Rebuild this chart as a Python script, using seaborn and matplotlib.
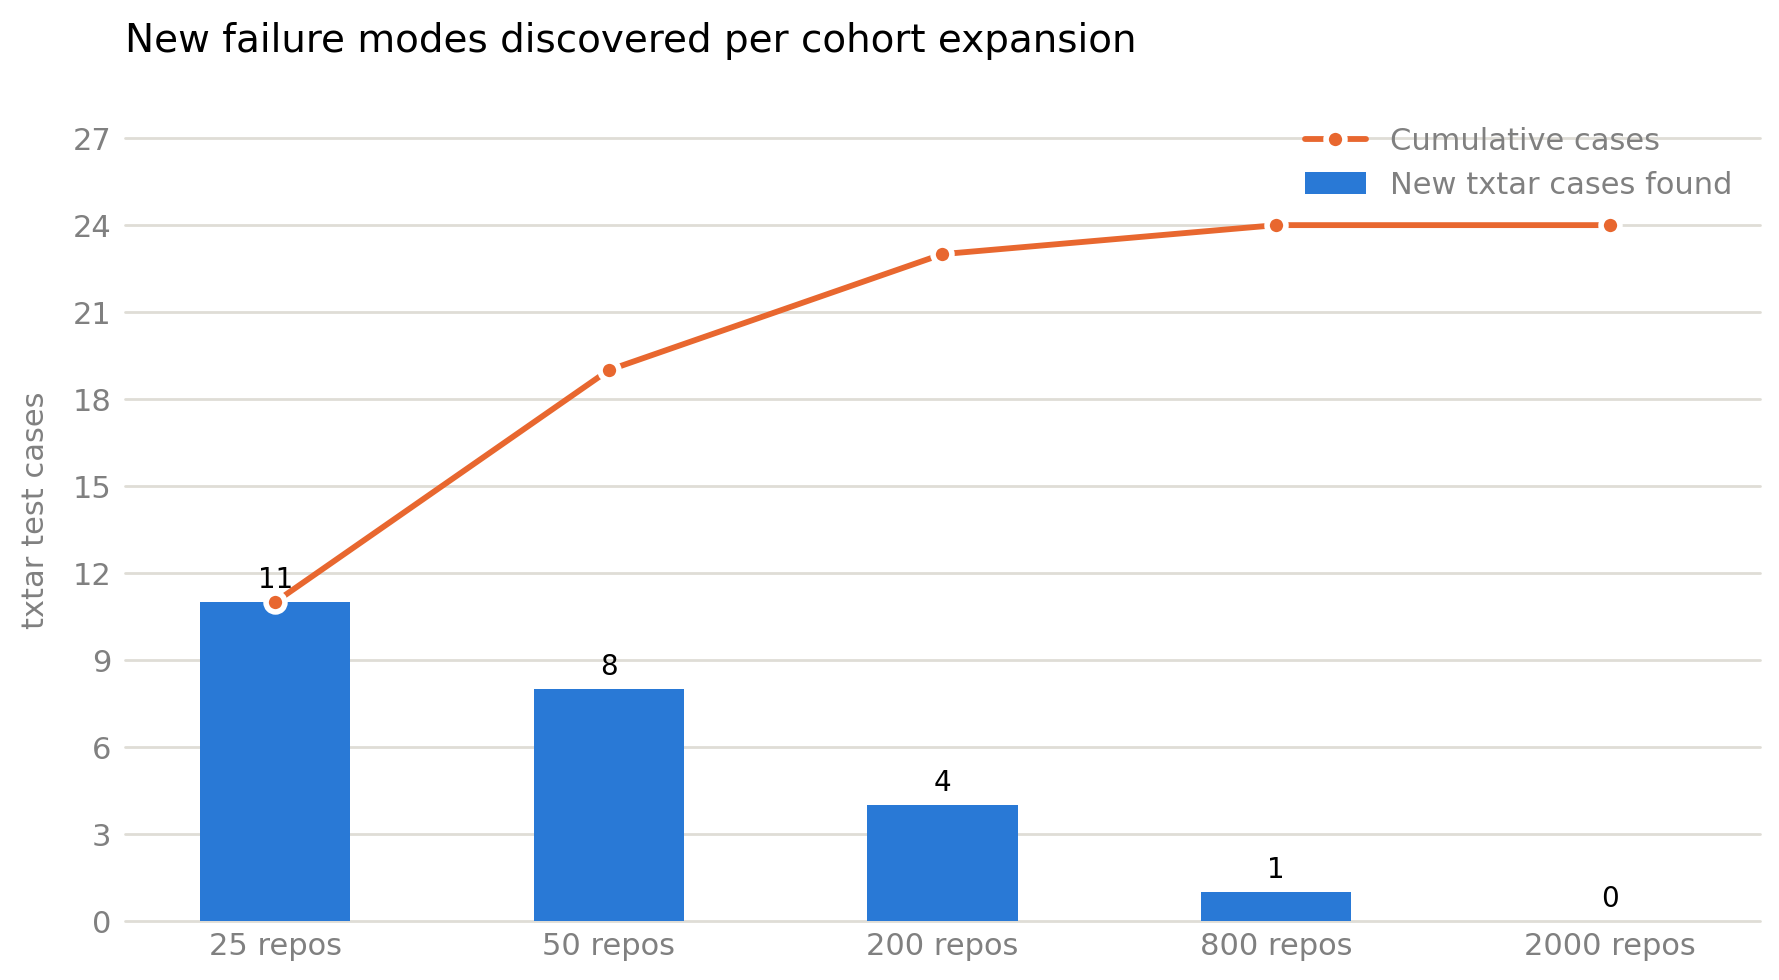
import matplotlib
matplotlib.use("Agg")
import matplotlib.pyplot as plt
import seaborn as sns
import pandas as pd

cohorts = ["25 repos", "50 repos", "200 repos", "800 repos", "2000 repos"]
new_cases = [11, 8, 4, 1, 0]
cumulative_cases = [11, 19, 23, 24, 24]
y_ticks = [0, 3, 6, 9, 12, 15, 18, 21, 24, 27]

title = "New failure modes discovered per cohort expansion"
y_label = "txtar test cases"
bar_name = "New txtar cases found"
line_name = "Cumulative cases"

BLUE = "#2979D6"
ORANGE = "#E8672F"
GRID = "#DFDDD6"
GRAY = "#808080"

sns.set_theme(style="white")
plt.rcParams["font.family"] = ["DejaVu Sans"]

df = pd.DataFrame({"cohort": cohorts, "new": new_cases, "cum": cumulative_cases})

fig = plt.figure(figsize=(1779 / 200, 980 / 200), dpi=200)
ax = fig.add_axes([125 / 1779, 1 - 921 / 980, (1760 - 125) / 1779, (921 - 99) / 980])

sns.barplot(data=df, x="cohort", y="new", color=BLUE, width=0.45, saturation=1,
            linewidth=0, edgecolor=BLUE, label=bar_name, ax=ax, zorder=2)
sns.pointplot(data=df, x="cohort", y="cum", color=ORANGE, errorbar=None,
              markers="o", markersize=6.8, markeredgecolor="white",
              markeredgewidth=2.0, linewidth=2.1, label=line_name, ax=ax)
for ln in ax.lines:
    ln.set_zorder(4)

for cont in ax.containers:
    ax.bar_label(cont, labels=[str(v) for v in new_cases], padding=3,
                 fontsize=10, color="black", zorder=5)

ax.set_xlim(-0.45, 4.45)
ax.set_ylim(0, 28.35)
ax.set_yticks(y_ticks)
ax.set_yticklabels([str(t) for t in y_ticks])
ax.yaxis.grid(True, color=GRID, linewidth=1.0, zorder=0)
ax.xaxis.grid(False)
ax.set_axisbelow(True)
for gl in ax.get_ygridlines():
    gl.set_clip_on(False)
for s in ax.spines.values():
    s.set_visible(False)
ax.tick_params(axis="both", length=0, labelsize=11, labelcolor=GRAY)
ax.tick_params(axis="y", pad=5)
ax.tick_params(axis="x", pad=4)
ax.set_xlabel("")
ax.set_ylabel(y_label, fontsize=11, color=GRAY, labelpad=8)
ax.set_title(title, loc="left", fontsize=14, color="black", pad=17)

handles, labels = ax.get_legend_handles_labels()
order = sorted(range(len(labels)), key=lambda i: 0 if labels[i] == line_name else 1)
leg = ax.legend([handles[i] for i in order], [labels[i] for i in order],
                loc="upper right", frameon=False, fontsize=11)
for t in leg.get_texts():
    t.set_color(GRAY)

fig.savefig("out.png", dpi=200)
